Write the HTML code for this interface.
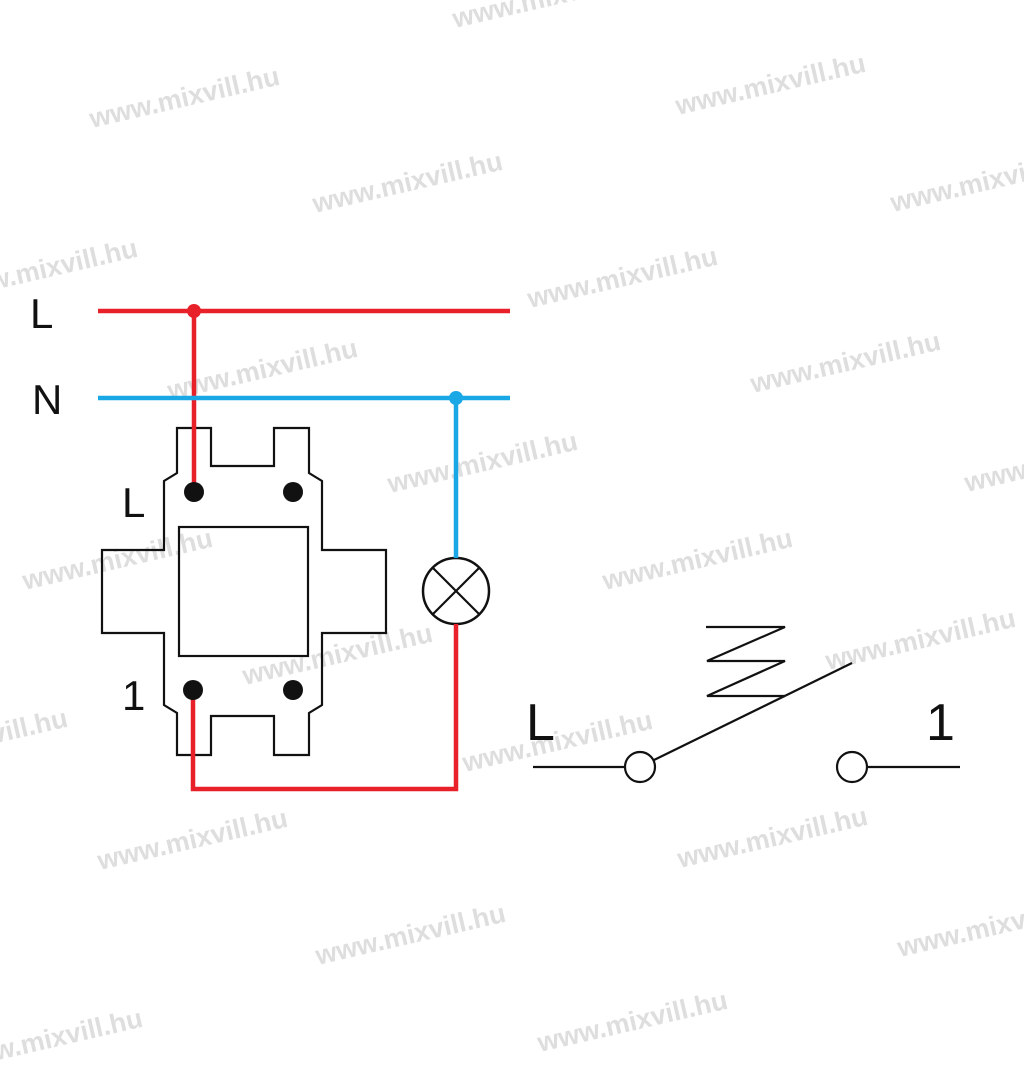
<!DOCTYPE html>
<html><head><style>html,body{margin:0;padding:0;background:#fff}svg{display:block}</style></head>
<body>
<svg width="1024" height="1088" viewBox="0 0 1024 1088" xmlns="http://www.w3.org/2000/svg">
<g font-family="Liberation Sans, sans-serif" font-weight="bold" font-size="27" fill="#dedede">
<text transform="translate(455,28) rotate(-13)">www.mixvill.hu</text>
<text transform="translate(92,128) rotate(-13)">www.mixvill.hu</text>
<text transform="translate(678,115) rotate(-13)">www.mixvill.hu</text>
<text transform="translate(315,213) rotate(-13)">www.mixvill.hu</text>
<text transform="translate(893,212) rotate(-13)">www.mixvill.hu</text>
<text transform="translate(-50,300) rotate(-13)">www.mixvill.hu</text>
<text transform="translate(530,308) rotate(-13)">www.mixvill.hu</text>
<text transform="translate(170,400) rotate(-13)">www.mixvill.hu</text>
<text transform="translate(753,393) rotate(-13)">www.mixvill.hu</text>
<text transform="translate(390,493) rotate(-13)">www.mixvill.hu</text>
<text transform="translate(967,492) rotate(-13)">www.mixvill.hu</text>
<text transform="translate(25,590) rotate(-13)">www.mixvill.hu</text>
<text transform="translate(605,590) rotate(-13)">www.mixvill.hu</text>
<text transform="translate(245,685) rotate(-13)">www.mixvill.hu</text>
<text transform="translate(828,670) rotate(-13)">www.mixvill.hu</text>
<text transform="translate(-120,770) rotate(-13)">www.mixvill.hu</text>
<text transform="translate(465,772) rotate(-13)">www.mixvill.hu</text>
<text transform="translate(100,870) rotate(-13)">www.mixvill.hu</text>
<text transform="translate(680,868) rotate(-13)">www.mixvill.hu</text>
<text transform="translate(318,965) rotate(-13)">www.mixvill.hu</text>
<text transform="translate(900,957) rotate(-13)">www.mixvill.hu</text>
<text transform="translate(-45,1070) rotate(-13)">www.mixvill.hu</text>
<text transform="translate(540,1052) rotate(-13)">www.mixvill.hu</text>
</g>
<g font-family="Liberation Sans, sans-serif" fill="#111">
<text x="30" y="328" font-size="42">L</text>
<text x="32" y="414" font-size="42">N</text>
<text x="122" y="517" font-size="42">L</text>
<text x="122" y="710" font-size="42">1</text>
<text x="526" y="740" font-size="52">L</text>
<text x="926" y="740" font-size="52">1</text>
</g>
<g fill="none" stroke="#111" stroke-width="2.2" stroke-linejoin="miter">
<path d="M177,428 H211 V466 H274 V428 H309 V473 L322,481 V550 H386 V633 H322 V705 L309,713 V755 H274 V716 H211 V755 H177 V713 L164,705 V633 H102 V550 H164 V481 L177,473 Z"/>
<rect x="179" y="527" width="129" height="129"/>
<circle cx="456" cy="591" r="33" stroke-width="2.5"/>
<path d="M433,568 L479,614 M479,568 L433,614"/>
<path d="M533,767 H625 M867,767 H960"/>
<circle cx="640" cy="767" r="15" fill="#fff"/>
<circle cx="852" cy="767" r="15" fill="#fff"/>
<path d="M654,760 L852,663"/>
<path d="M706,627 H785 L707,661 H785 L707,696 H785"/>
</g>
<g stroke="#e8202a" stroke-width="4.5" fill="none">
<path d="M98,311 H510"/>
<path d="M194,311 V492"/>
<path d="M193,690 V789 H456 V624"/>
</g>
<g stroke="#1aa7e6" stroke-width="4.5" fill="none">
<path d="M98,398 H510"/>
<path d="M456,398 V558"/>
</g>
<circle cx="194" cy="311" r="7" fill="#e8202a"/>
<circle cx="456" cy="398" r="7" fill="#1aa7e6"/>
<g fill="#111">
<circle cx="194" cy="492" r="10"/>
<circle cx="293" cy="492" r="10"/>
<circle cx="193" cy="690" r="10"/>
<circle cx="293" cy="690" r="10"/>
</g>
</svg>
</body></html>
